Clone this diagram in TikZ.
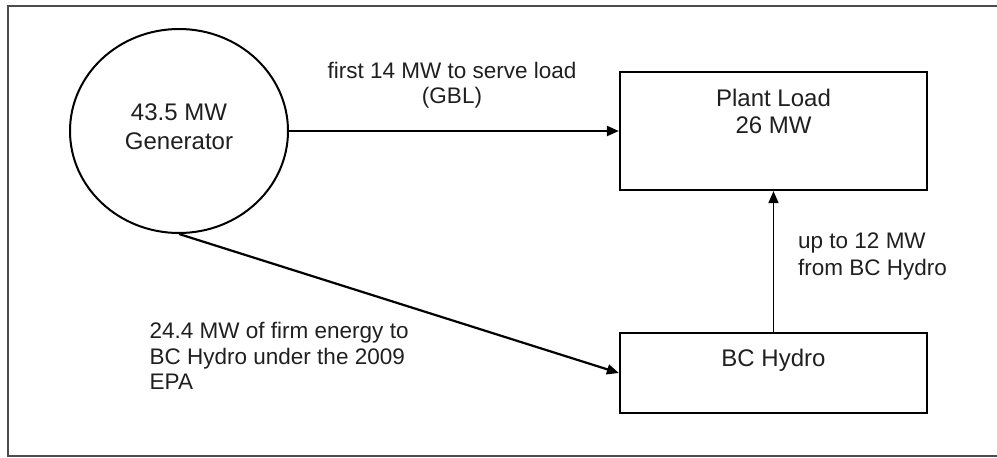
\documentclass[tikz,border=0pt]{standalone}
\usepackage{fontspec}
\setmainfont{Liberation Sans}
\usetikzlibrary{arrows.meta,shapes.geometric}
\begin{document}
\begin{tikzpicture}[x=1pt,y=-1pt,
  box/.style={draw=black, line width=2.2pt, rectangle, inner sep=0pt},
  nodetext/.style={font=\fontsize{24}{28.5}\selectfont, text=black!88, align=center, inner sep=0pt, anchor=base},
  lbl/.style={font=\fontsize{22.5}{26}\selectfont, text=black!88, inner sep=0pt, anchor=base},
  arr/.style={-{Triangle[length=12pt,width=10pt]}, line width=2.2pt}]
\useasboundingbox (0,0) rectangle (997,458);
\draw[line width=2.5pt, draw=black!70] (8,6) rectangle (1006,456);
\node[draw=black, line width=2pt, ellipse, minimum width=218pt, minimum height=204pt, inner sep=0pt] (gen) at (179,131) {};
\node[box, minimum width=307pt, minimum height=118pt] (plant) at (773.5,131) {};
\node[box, minimum width=307pt, minimum height=80pt] (hydro) at (773.5,373) {};
\node[nodetext] (gent) at (179,149) {43.5 MW\\Generator};
\node[nodetext, font=\fontsize{24}{26.7}\selectfont] (plantt) at (773.5,133.3) {Plant Load\\26 MW};
\node[nodetext] (hydrot) at (773.5,366) {BC Hydro};
\draw[arr] (gen) -- (plant);
\draw[arr] (gen.south) -- (hydro.west);
\draw[arr, line width=1.5pt] (hydro) -- (plant);
\node[lbl, align=center, font=\fontsize{22.5}{25}\selectfont] (l1) at (452,103) {first 14 MW to serve load\\(GBL)};
\node[lbl, align=left, anchor=base west, font=\fontsize{22.5}{27}\selectfont] (l2) at (798,275) {up to 12 MW\\from BC Hydro};
\node[lbl, align=left, anchor=base west, font=\fontsize{22.5}{25.5}\selectfont] (l3) at (149.5,389.5) {24.4 MW of firm energy to\\BC Hydro under the 2009\\EPA};
\end{tikzpicture}
\end{document}
